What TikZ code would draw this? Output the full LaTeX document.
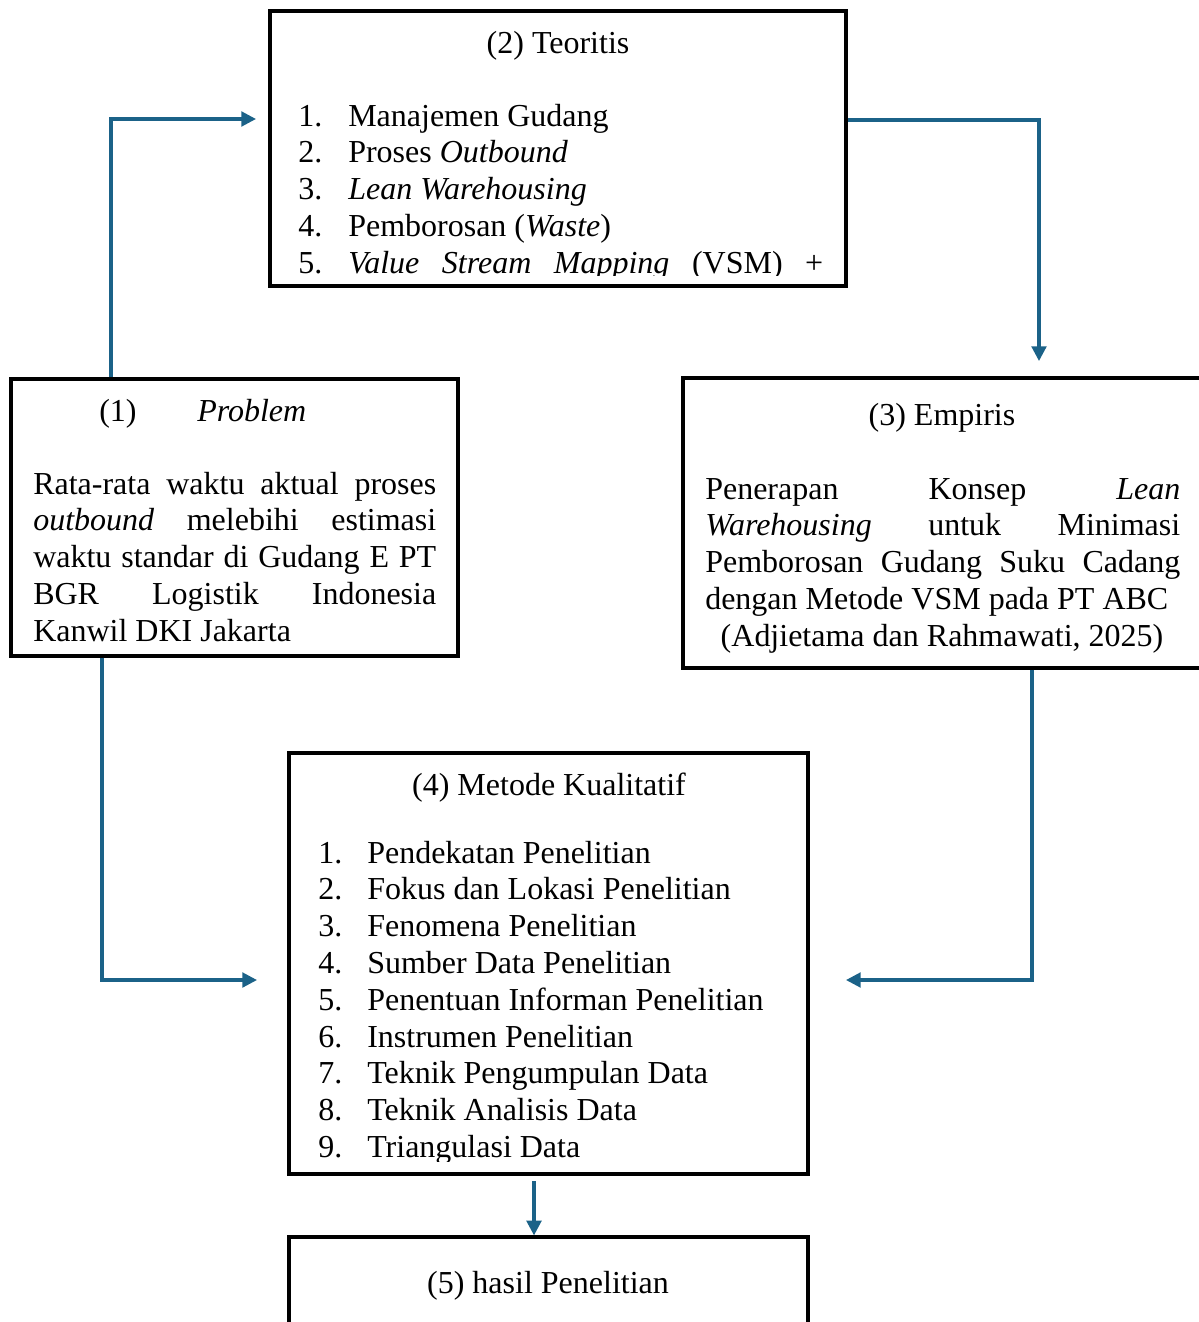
\documentclass[tikz,border=0pt]{standalone}
\usepackage{fontspec}
\setmainfont{Liberation Serif}
\usetikzlibrary{arrows.meta}
\definecolor{arrblue}{RGB}{27,98,136}
\newcommand\jusline[2]{\hbox to #1{#2}}
\begin{document}
\begin{tikzpicture}[x=0.75pt,y=-0.75pt,
  box/.style={draw=black, line width=2.4pt, rectangle, inner sep=0pt},
  txt/.style={anchor=base west, inner sep=0pt, font=\fontsize{24pt}{28pt}\selectfont},
  ctxt/.style={anchor=base, inner sep=0pt, font=\fontsize{24pt}{28pt}\selectfont},
  arr/.style={draw=arrblue, line width=2.3pt, -{Triangle[length=11pt,width=11pt]}}]
\useasboundingbox (0,0) rectangle (1199,1322);
\clip (0,0) rectangle (1199,1322);

% boxes
\node[box, minimum width=335.25pt, minimum height=207.75pt] (box1) at (234.5,517.5) {};
\node[box, minimum width=432pt, minimum height=206.25pt] (box2) at (558,148.5) {};
\node[box, minimum width=402.75pt, minimum height=217.5pt] (box3) at (951.5,523) {};
\node[box, minimum width=389.25pt, minimum height=315.75pt] (box4) at (548.5,963.5) {};
\node[box, minimum width=389.25pt, minimum height=92.25pt] (box5) at (548.5,1298.5) {};

% box 2 text
\node[ctxt] (t2title) at (558,53) {(2) Teoritis};
\node[txt] (t2n1) at (298,126) {1.};
\node[txt] (t2i1) at (348,126) {Manajemen Gudang};
\node[txt] (t2n2) at (298,162.8) {2.};
\node[txt] (t2i2) at (348,162.8) {Proses \textit{Outbound}};
\node[txt] (t2n3) at (298,199.6) {3.};
\node[txt] (t2i3) at (348,199.6) {\textit{Lean Warehousing}};
\node[txt] (t2n4) at (298,236.4) {4.};
\node[txt] (t2i4) at (348,236.4) {Pemborosan (\textit{Waste})};
\begin{scope}
\clip (270,0) rectangle (846,275);
\node[txt] (t2n5) at (298,273.2) {5.};
\node[txt] (t2i5) at (348,273.2) {\jusline{356.25pt}{\textit{Value}\hfill\textit{Stream}\hfill\textit{Mapping}\hfill(VSM)\hfill+}};
\end{scope}

% box 1 text
\node[txt] (t1a) at (99,421) {(1)};
\node[txt] (t1b) at (197,421) {\textit{Problem}};
\node[txt] (t1l1) at (33,494) {\jusline{302.25pt}{Rata-rata\hfill waktu\hfill aktual\hfill proses}};
\node[txt] (t1l2) at (33,530.8) {\jusline{302.25pt}{\textit{outbound}\hfill melebihi\hfill estimasi}};
\node[txt] (t1l3) at (33,567.6) {\jusline{302.25pt}{waktu\hfill standar\hfill di\hfill Gudang\hfill E\hfill PT}};
\node[txt] (t1l4) at (33,604.4) {\jusline{302.25pt}{BGR\hfill Logistik\hfill Indonesia}};
\node[txt] (t1l5) at (33,641.2) {Kanwil DKI Jakarta};

% box 3 text
\node[ctxt] (t3title) at (942,425) {(3) Empiris};
\node[txt] (t3l1) at (705,499) {\jusline{356.25pt}{Penerapan\hfill Konsep\hfill \textit{Lean}}};
\node[txt] (t3l2) at (705,535.8) {\jusline{356.25pt}{\textit{Warehousing}\hfill untuk\hfill Minimasi}};
\node[txt] (t3l3) at (705,572.6) {\jusline{356.25pt}{Pemborosan\hfill Gudang\hfill Suku\hfill Cadang}};
\node[txt] (t3l4) at (705,609.4) {dengan Metode VSM pada PT ABC};
\node[ctxt] (t3l5) at (942,646.2) {(Adjietama dan Rahmawati, 2025)};

% box 4 text
\node[ctxt] (t4title) at (549,795) {(4) Metode Kualitatif};
\node[txt] (t4n1) at (318,863) {1.};
\node[txt] (t4i1) at (367,863) {Pendekatan Penelitian};
\node[txt] (t4n2) at (318,899.8) {2.};
\node[txt] (t4i2) at (367,899.8) {Fokus dan Lokasi Penelitian};
\node[txt] (t4n3) at (318,936.6) {3.};
\node[txt] (t4i3) at (367,936.6) {Fenomena Penelitian};
\node[txt] (t4n4) at (318,973.4) {4.};
\node[txt] (t4i4) at (367,973.4) {Sumber Data Penelitian};
\node[txt] (t4n5) at (318,1010.2) {5.};
\node[txt] (t4i5) at (367,1010.2) {Penentuan Informan Penelitian};
\node[txt] (t4n6) at (318,1047) {6.};
\node[txt] (t4i6) at (367,1047) {Instrumen Penelitian};
\node[txt] (t4n7) at (318,1083.8) {7.};
\node[txt] (t4i7) at (367,1083.8) {Teknik Pengumpulan Data};
\node[txt] (t4n8) at (318,1120.6) {8.};
\node[txt] (t4i8) at (367,1120.6) {Teknik Analisis Data};
\begin{scope}
\clip (289,1100) rectangle (808,1161);
\node[txt] (t4n9) at (318,1157.4) {9.};
\node[txt] (t4i9) at (367,1157.4) {Triangulasi Data};
\end{scope}

% box 5 text
\node[ctxt] (t5title) at (548,1293) {(5) hasil Penelitian};

% connectors
\coordinate (c1) at (111,119);
\coordinate (e1) at (256,119);
\draw[arr] (box1.north -| c1) -- (c1) -- (e1);

\coordinate (c2) at (1039,120);
\coordinate (e2) at (1039,361);
\draw[arr] (box2.east |- c2) -- (c2) -- (e2);

\coordinate (c3) at (102,980);
\coordinate (e3) at (257,980);
\draw[arr] (box1.south -| c3) -- (c3) -- (e3);

\coordinate (c4) at (1032,980);
\coordinate (e4) at (846,980);
\draw[arr] (box3.south -| c4) -- (c4) -- (e4);

\coordinate (s5) at (534,1181);
\draw[arr] (s5) -- (box5.north -| s5);
\end{tikzpicture}
\end{document}
